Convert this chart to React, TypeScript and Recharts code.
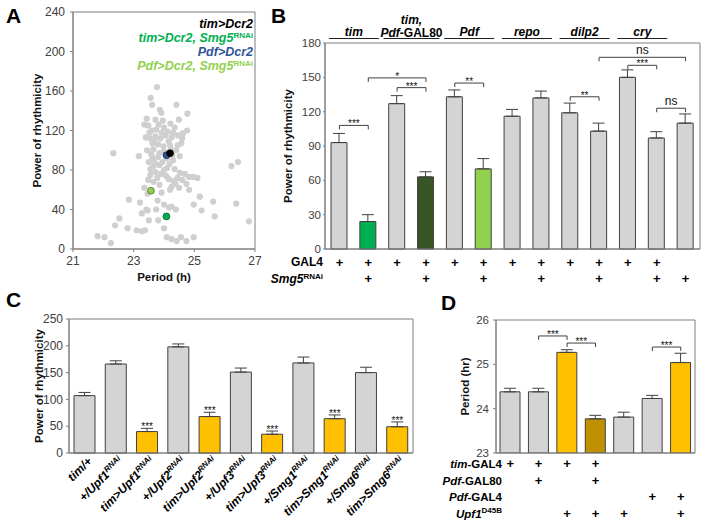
import React from "react";
import {
  Bar,
  BarChart,
  Cell,
  ErrorBar,
  ReferenceArea,
  ReferenceDot,
  ReferenceLine,
  Scatter,
  ScatterChart,
  XAxis,
  YAxis,
} from "recharts";

const FONT = '"Liberation Sans", Arial, sans-serif';
const AXIS_C = "#7f7f7f";
const INK = "#404040";
const GRAY = "#d4d4d4";
const YELLOW = "#ffc000";

// ---- panel A: period vs power, one point per line ----
const aGray: [number, number][] = [
  [23.77, 164], [23.56, 153], [23.61, 146], [23.86, 141], [23.91, 138], [24.41, 146], [24.77, 137],
  [23.43, 132], [23.35, 126], [23.48, 125], [23.72, 131], [23.96, 130], [24.21, 127], [24.49, 131],
  [24.0, 123], [23.75, 121], [24.12, 119], [24.76, 120], [24.35, 123], [23.4, 113], [23.55, 112],
  [23.72, 114], [23.88, 112], [24.05, 115], [24.25, 113], [24.45, 115], [24.62, 117], [24.15, 109],
  [23.62, 107], [23.8, 106], [23.98, 104], [24.2, 105], [24.45, 105], [24.57, 107], [23.68, 110],
  [22.33, 97], [23.17, 94], [23.44, 100], [23.65, 101], [24.4, 100], [24.52, 94], [24.0, 99],
  [23.85, 97], [23.5, 88], [23.7, 87], [23.85, 85], [23.55, 81], [23.72, 78], [23.9, 76], [24.0, 80],
  [24.07, 74], [23.62, 92], [24.3, 90], [24.35, 81], [24.15, 71], [24.3, 69], [24.45, 72], [24.6, 70],
  [24.82, 73], [24.96, 73], [24.52, 77], [24.69, 76], [23.48, 70], [23.65, 68], [23.85, 65],
  [24.25, 63], [24.38, 66], [24.5, 62], [24.74, 66], [24.83, 60], [23.92, 57], [23.35, 62],
  [22.84, 50], [23.21, 47], [23.46, 56], [23.79, 49], [24.2, 60], [23.42, 40], [23.74, 40],
  [24.0, 45], [24.17, 42], [24.25, 43], [24.39, 40], [23.27, 36], [23.46, 39], [25.1, 72],
  [25.18, 53], [24.98, 45], [25.24, 39], [25.62, 48], [25.67, 33], [26.22, 84], [26.44, 88],
  [26.38, 46], [26.8, 28], [22.53, 31], [22.39, 24], [22.8, 21], [23.1, 19], [23.27, 18],
  [23.37, 19], [23.5, 29], [23.81, 29], [24.0, 21], [24.09, 12], [24.25, 10], [24.42, 8],
  [24.56, 12], [24.74, 8], [24.98, 12], [21.81, 13], [22.04, 12], [22.25, 6], [23.58, 96],
  [23.8, 93], [24.1, 92], [23.95, 88], [24.18, 86], [23.66, 84], [24.1, 82], [23.78, 72],
  [23.55, 75], [24.22, 101], [23.92, 118], [24.3, 118], [23.52, 118], [23.82, 126], [24.6, 112],
  [23.6, 120], [24.27, 95],
];
const aTimDcr2 = [{ p: 24.2, v: 97 }];
const aPdfDcr2 = [{ p: 24.08, v: 95 }];
const aPdfSmg5 = [{ p: 23.57, v: 59 }];
const aTimSmg5 = [{ p: 24.08, v: 33 }];
const aXTicks = [21, 23, 25, 27];
const aYTicks = [0, 40, 80, 120, 160, 200, 240];

// ---- panel B: Smg5 RNAi with different drivers ----
const bNames = [
  "tim", "tim>Smg5", "tim,Pdf-GAL80", "tim,Pdf-GAL80>Smg5", "Pdf", "Pdf>Smg5",
  "repo", "repo>Smg5", "dilp2", "dilp2>Smg5", "cry", "cry>Smg5", "Smg5",
];
const bPower = [93, 24, 127, 63, 133, 70, 116, 132, 119, 103, 150, 97, 110];
const bSem = [8, 6, 7, 4.5, 6, 9, 6, 6, 8.5, 7, 6.5, 5.5, 8];
const bColors = [GRAY, "#00b050", GRAY, "#375623", GRAY, "#92d050", GRAY, GRAY, GRAY, GRAY, GRAY, GRAY, GRAY];
const bGal4 = [1, 1, 1, 1, 1, 1, 1, 1, 1, 1, 1, 1, 0];
const bSmg5 = [0, 1, 0, 1, 0, 1, 0, 1, 0, 1, 0, 1, 1];
const bYTicks = [0, 30, 60, 90, 120, 150, 180];
const bBrackets = [
  { a: 0, b: 1, y: 108, t: "***" },
  { a: 1, b: 3, y: 149.5, t: "*" },
  { a: 2, b: 3, y: 141, t: "***" },
  { a: 4, b: 5, y: 145, t: "**" },
  { a: 8, b: 9, y: 133, t: "**" },
  { a: 10, b: 11, y: 160.5, t: "***" },
  { a: 9, b: 12, y: 167.5, t: "ns" },
  { a: 11, b: 12, y: 123, t: "ns" },
];
const bGroups = ["tim", "tim,|Pdf-GAL80", "Pdf", "repo", "dilp2", "cry"];

// ---- panel C: NMD factor knockdown ----
const cMain = [
  "tim/+", "+/Upf1", "tim>Upf1", "+/Upf2", "tim>Upf2", "+/Upf3",
  "tim>Upf3", "+/Smg1", "tim>Smg1", "+/Smg6", "tim>Smg6",
];
const cSup = ["", "RNAi", "RNAi", "RNAi", "RNAi", "RNAi", "RNAi", "RNAi", "RNAi", "RNAi", "RNAi"];
const cPower = [107, 166, 40, 198, 68, 151, 35, 168, 64, 150, 49];
const cSem = [6, 6, 6, 5.5, 8, 7.5, 6, 11, 7, 10, 9];
const cKnock = [0, 0, 1, 0, 1, 0, 1, 0, 1, 0, 1];
const cYTicks = [0, 50, 100, 150, 200, 250];

// ---- panel D: Upf1 D45B period ----
const dNames = [
  "tim/+", "tim,Pdf-GAL80/+", "tim>Upf1D45B", "tim,Pdf-GAL80>Upf1D45B",
  "Upf1D45B/+", "Pdf/+", "Pdf>Upf1D45B",
];
const dPeriod = [24.38, 24.38, 25.27, 23.77, 23.81, 24.23, 25.04];
const dSem = [0.08, 0.08, 0.06, 0.08, 0.11, 0.07, 0.21];
const dColors = [GRAY, GRAY, YELLOW, "#bf9000", GRAY, GRAY, YELLOW];
const dRows = [
  [1, 1, 1, 1, 0, 0, 0],
  [0, 1, 0, 1, 0, 0, 0],
  [0, 0, 0, 0, 0, 1, 1],
  [0, 0, 1, 1, 1, 0, 1],
];
const dYTicks = [23, 24, 25, 26];
const dBrackets = [
  { a: 1, b: 2, y: 25.64, t: "***" },
  { a: 2, b: 3, y: 25.48, t: "***" },
  { a: 5, b: 6, y: 25.39, t: "***" },
];

const aData = aGray.map(([p, v]) => ({ p, v }));
const bData = bNames.map((name, i) => ({ name, v: bPower[i], e: [0, bSem[i]] }));
const cData = cMain.map((m, i) => ({ name: m + cSup[i], v: cPower[i], e: [0, cSem[i]] }));
const dData = dNames.map((name, i) => ({ name, v: dPeriod[i], e: [0, dSem[i]] }));

const tickStyle = (size: number) => ({ fontSize: size, fill: INK, fontFamily: FONT });
const titleLabel = (value: string) => ({
  value,
  angle: -90,
  position: "center" as const,
  fontSize: 11.5,
  fontWeight: 700,
  fill: "#111",
  fontFamily: FONT,
});
const plus = { fontSize: 13, fontWeight: 700, fontFamily: FONT, fill: "#000" };
const bold = { fontFamily: FONT, fontWeight: 700, fill: "#000" };

function starText(t: string) {
  return (p: any) => {
    const vb = p.viewBox || {};
    const ns = t === "ns";
    return (
      <text
        x={vb.x + (vb.width || 0) / 2}
        y={vb.y - (ns ? 3 : -2)}
        textAnchor="middle"
        fontSize={ns ? 12 : 10}
        fontFamily={FONT}
        fill="#111"
      >
        {t}
      </text>
    );
  };
}

function brackets(names: string[], list: { a: number; b: number; y: number; t: string }[], drop: number) {
  return list.flatMap((br, i) => {
    const xa = names[br.a];
    const xb = names[br.b];
    return [
      <ReferenceLine
        key={`h${i}`}
        segment={[{ x: xa, y: br.y }, { x: xb, y: br.y }]}
        stroke={INK}
        label={starText(br.t)}
      />,
      <ReferenceLine key={`l${i}`} segment={[{ x: xa, y: br.y }, { x: xa, y: br.y - drop }]} stroke={INK} />,
      <ReferenceLine key={`r${i}`} segment={[{ x: xb, y: br.y }, { x: xb, y: br.y - drop }]} stroke={INK} />,
    ];
  });
}

function BTick(props: any) {
  const { x, y, index } = props;
  return (
    <g>
      {bGal4[index] ? <text x={x} y={y + 13} textAnchor="middle" dominantBaseline="central" {...plus}>+</text> : null}
      {bSmg5[index] ? <text x={x} y={y + 29.6} textAnchor="middle" dominantBaseline="central" {...plus}>+</text> : null}
    </g>
  );
}

function CTick(props: any) {
  const { x, y, index } = props;
  return (
    <text
      transform={`translate(${x + 8},${y + 9}) rotate(-45)`}
      textAnchor="end"
      fontSize={12}
      fontStyle="italic"
      {...bold}
    >
      {cMain[index]}
      {cSup[index] ? <tspan dy={-4.5} fontSize={8}>{cSup[index]}</tspan> : null}
    </text>
  );
}

const dRowOffsets = [10, 27.7, 43.7, 60];
function DTick(props: any) {
  const { x, y, index } = props;
  return (
    <g>
      {dRows.map((row, r) =>
        row[index] ? (
          <text key={r} x={x} y={y + dRowOffsets[r]} textAnchor="middle" dominantBaseline="central" {...plus}>+</text>
        ) : null
      )}
    </g>
  );
}

const dot = (fill: string, stroke: string, r: number) => (p: any) =>
  <circle cx={p.cx} cy={p.cy} r={r} fill={fill} stroke={stroke} strokeWidth={stroke === "none" ? 0 : 0.8} />;

function PanelA() {
  return (
    <ScatterChart width={269} height={290} margin={{ top: 12, right: 15, bottom: 0, left: 0 }}>
      <XAxis
        type="number"
        dataKey="p"
        domain={[21, 27]}
        ticks={aXTicks}
        height={41}
        stroke={AXIS_C}
        tickSize={3}
        tickMargin={4}
        tick={tickStyle(12)}
        label={{ value: "Period (h)", position: "insideBottom", offset: 9, fontSize: 11.5, fontWeight: 700, fill: "#111", fontFamily: FONT }}
      />
      <YAxis
        type="number"
        dataKey="v"
        domain={[0, 240]}
        ticks={aYTicks}
        width={72}
        stroke={AXIS_C}
        tickSize={3}
        tickMargin={5}
        tick={tickStyle(12)}
        label={titleLabel("Power of rhythmicity")}
      />
      <ReferenceArea y1={0} y2={240} fill="transparent" stroke={AXIS_C} />
      <Scatter data={aData} shape={dot("#cfcfcf", "none", 3.1)} isAnimationActive={false} />
      <Scatter data={aTimSmg5} shape={dot("#00b050", "#005a28", 3.4)} isAnimationActive={false} />
      <Scatter data={aPdfSmg5} shape={dot("#92d050", "#4b6e22", 3.4)} isAnimationActive={false} />
      <Scatter data={aPdfDcr2} shape={dot("#2f5597", "#1a2f55", 3.4)} isAnimationActive={false} />
      <Scatter data={aTimDcr2} shape={dot("#000", "#000", 3.4)} isAnimationActive={false} />
    </ScatterChart>
  );
}

function PanelB() {
  return (
    <BarChart width={454} height={290} data={bData} margin={{ top: 43, right: 5, bottom: 0, left: 0 }}>
      <XAxis dataKey="name" height={41} stroke={AXIS_C} tickLine={false} tickSize={0} tickMargin={0} interval={0} tick={BTick} />
      <YAxis
        domain={[0, 180]}
        ticks={bYTicks}
        width={74}
        stroke={AXIS_C}
        tickSize={2}
        tickMargin={2}
        tick={tickStyle(11.5)}
        label={titleLabel("Power of rhythmicity")}
      />
      <ReferenceArea y1={0} y2={180} fill="transparent" stroke={AXIS_C} />
      <Bar dataKey="v" barSize={16} stroke={INK} strokeWidth={1} isAnimationActive={false}>
        {bData.map((_, i) => (
          <Cell key={i} fill={bColors[i]} />
        ))}
        <ErrorBar dataKey="e" width={6} stroke={INK} strokeWidth={1} isAnimationActive={false} />
      </Bar>
      {brackets(bNames, bBrackets, 3.5)}
    </BarChart>
  );
}

function PanelC() {
  return (
    <BarChart width={412} height={227} data={cData} margin={{ top: 19, right: 7, bottom: 0, left: 0 }}>
      <XAxis dataKey="name" height={74} stroke={AXIS_C} tickLine={false} tickSize={0} tickMargin={0} interval={0} tick={CTick} />
      <YAxis
        domain={[0, 250]}
        ticks={cYTicks}
        width={61}
        stroke={AXIS_C}
        tickSize={3}
        tickMargin={3}
        tick={tickStyle(12)}
        label={titleLabel("Power of rhythmicity")}
      />
      <ReferenceArea y1={0} y2={250} fill="transparent" stroke={AXIS_C} />
      <Bar dataKey="v" barSize={21} stroke={INK} strokeWidth={1} isAnimationActive={false}>
        {cData.map((_, i) => (
          <Cell key={i} fill={cKnock[i] ? YELLOW : GRAY} />
        ))}
        <ErrorBar dataKey="e" width={6} stroke={INK} strokeWidth={1} isAnimationActive={false} />
      </Bar>
      {cData.map((d, i) =>
        cKnock[i] ? (
          <ReferenceDot key={i} x={d.name} y={cPower[i] + cSem[i]} r={0} label={starText("***")} />
        ) : null
      )}
    </BarChart>
  );
}

function PanelD() {
  return (
    <BarChart width={274} height={227} data={dData} margin={{ top: 20, right: 12, bottom: 0, left: 0 }}>
      <XAxis dataKey="name" height={74} stroke={AXIS_C} tickLine={false} tickSize={0} tickMargin={0} interval={0} tick={DTick} />
      <YAxis
        domain={[23, 26]}
        ticks={dYTicks}
        allowDataOverflow
        width={63}
        stroke={AXIS_C}
        tickSize={3}
        tickMargin={4}
        tick={tickStyle(11.5)}
        label={titleLabel("Period (hr)")}
      />
      <ReferenceArea y1={23} y2={26} fill="transparent" stroke={AXIS_C} />
      <Bar dataKey="v" barSize={20} stroke={INK} strokeWidth={1} isAnimationActive={false}>
        {dData.map((_, i) => (
          <Cell key={i} fill={dColors[i]} />
        ))}
        <ErrorBar dataKey="e" width={6} stroke={INK} strokeWidth={1} isAnimationActive={false} />
      </Bar>
      {brackets(dNames, dBrackets, 0.09)}
    </BarChart>
  );
}

function Sup({ children }: { children: string }) {
  return (
    <tspan dy={-4.5} fontSize={8} fontStyle="normal">
      {children}
    </tspan>
  );
}

function Overlay() {
  const legend = { fontFamily: FONT, fontWeight: 700, fontStyle: "italic", fontSize: 12.5, textAnchor: "end" as const };
  const bPlotLeft = 325;
  const bBand = 375 / 13;
  return (
    <svg width={708} height={527} style={{ position: "absolute", left: 0, top: 0, pointerEvents: "none" }}>
      <g {...bold} fontSize={21}>
        <text x={6} y={23}>A</text>
        <text x={271} y={23}>B</text>
        <text x={6} y={307}>C</text>
        <text x={441} y={310}>D</text>
      </g>

      <text x={253} y={28} {...legend} fill="#000">tim&gt;Dcr2</text>
      <text x={253} y={42} {...legend} fill="#00b050">tim&gt;Dcr2, Smg5<Sup>RNAi</Sup></text>
      <text x={253} y={56} {...legend} fill="#2f5597">Pdf&gt;Dcr2</text>
      <text x={253} y={70} {...legend} fill="#92d050">Pdf&gt;Dcr2, Smg5<Sup>RNAi</Sup></text>

      {bGroups.map((g, i) => {
        const cx = bPlotLeft + (2 * i + 1) * bBand;
        const half = i === 1 ? 28 : 25;
        const parts = g.split("|");
        return (
          <g key={g} {...bold} fontSize={12}>
            <line x1={cx - half} x2={cx + half} y1={38.5} y2={38.5} stroke="#222" strokeWidth={1} />
            {parts.length === 1 ? (
              <text x={cx} y={36} textAnchor="middle" fontStyle="italic">{g}</text>
            ) : (
              <>
                <text x={cx} y={24} textAnchor="middle" fontStyle="italic">{parts[0]}</text>
                <text x={cx} y={36.5} textAnchor="middle">
                  <tspan fontStyle="italic">Pdf</tspan>-GAL80
                </text>
              </>
            )}
          </g>
        );
      })}

      <g {...bold} fontSize={12} textAnchor="end">
        <text x={323} y={266}>GAL4</text>
        <text x={323} y={283} fontStyle="italic">Smg5<Sup>RNAi</Sup></text>
      </g>

      <g {...bold} fontSize={11.5} textAnchor="end">
        <text x={502} y={467.5}><tspan fontStyle="italic">tim</tspan>-GAL4</text>
        <text x={502} y={485}><tspan fontStyle="italic">Pdf</tspan>-GAL80</text>
        <text x={502} y={501}><tspan fontStyle="italic">Pdf</tspan>-GAL4</text>
        <text x={502} y={517.5}><tspan fontStyle="italic">Upf1</tspan><Sup>D45B</Sup></text>
      </g>
    </svg>
  );
}

export default function App() {
  return (
    <div style={{ position: "fixed", left: 0, top: 0, width: 708, height: 527, background: "#fff", overflow: "hidden", fontFamily: FONT }}>
      <div style={{ position: "absolute", left: 1, top: 0 }}>
        <PanelA />
      </div>
      <div style={{ position: "absolute", left: 251, top: 0 }}>
        <PanelB />
      </div>
      <div style={{ position: "absolute", left: 8, top: 300 }}>
        <PanelC />
      </div>
      <div style={{ position: "absolute", left: 433, top: 300 }}>
        <PanelD />
      </div>
      <Overlay />
    </div>
  );
}
